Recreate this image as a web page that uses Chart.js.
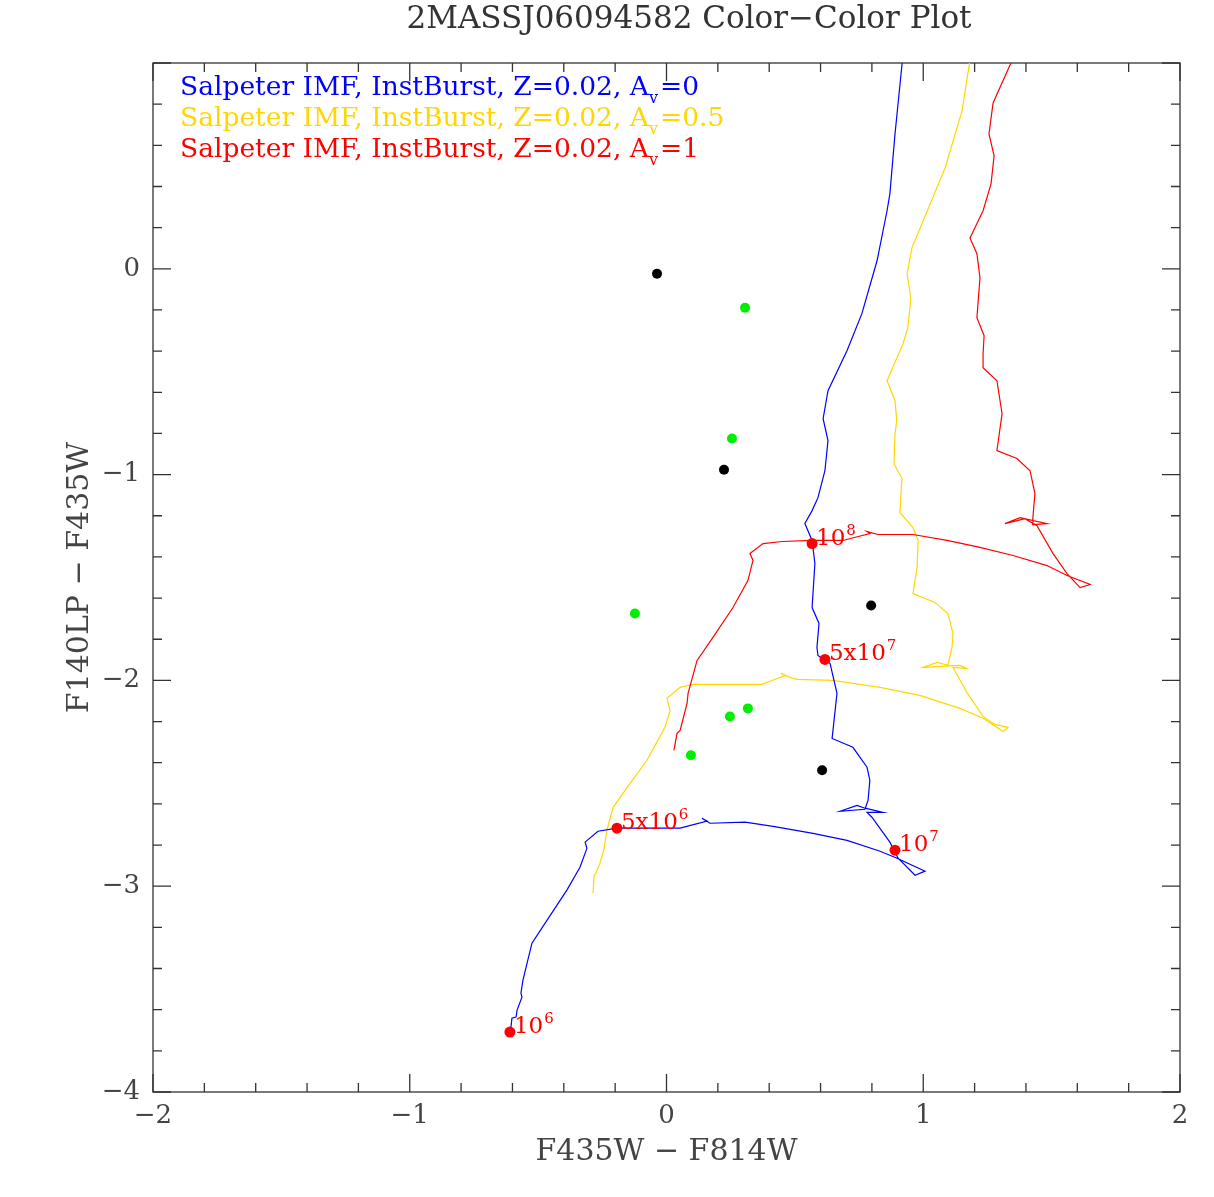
<!DOCTYPE html>
<html>
<head>
<meta charset="utf-8">
<script src="https://cdn.jsdelivr.net/npm/chart.js@4.4.1/dist/chart.umd.min.js"></script>
<style>
    body { margin: 0; background: #fff; }
</style>
</head>
<body>
<canvas id="ccChart" width="1214" height="1197"></canvas>
<script>
// Tracks (Salpeter IMF, inst. burst, Z=0.02) for Av = 0, 0.5, 1
const blueX = [-0.610,-0.602,-0.586,-0.582,-0.563,-0.567,-0.559,-0.543,-0.524,-0.465,
    -0.388,-0.337,-0.310,-0.317,-0.267,-0.193,0.053,0.158,0.138,0.169,
    0.306,0.415,0.571,0.703,0.832,0.898,1.007,0.968,0.902,0.870,
    0.800,0.781,0.843,0.773,0.742,0.676,0.773,0.785,0.792,0.781,
    0.726,0.645,0.664,0.637,0.617,0.590,0.586,0.594,0.567,0.578,
    0.567,0.539,0.567,0.590,0.617,0.629,0.610,0.629,0.703,0.761,
    0.820,0.859,0.870,0.890,0.917,0.929];
const blueY = [-3.733,-3.641,-3.636,-3.602,-3.539,-3.519,-3.456,-3.374,-3.277,-3.165,
    -3.019,-2.908,-2.816,-2.786,-2.733,-2.718,-2.718,-2.684,-2.670,-2.694,
    -2.689,-2.709,-2.743,-2.777,-2.830,-2.864,-2.927,-2.947,-2.864,-2.786,
    -2.665,-2.641,-2.641,-2.621,-2.607,-2.636,-2.626,-2.583,-2.485,-2.422,
    -2.325,-2.282,-2.063,-1.917,-1.903,-1.879,-1.840,-1.723,-1.646,-1.432,
    -1.320,-1.238,-1.175,-1.112,-0.981,-0.835,-0.728,-0.592,-0.398,-0.218,
    0.039,0.282,0.364,0.655,0.990,1.107];

const yellowX = [-0.286,-0.282,-0.275,-0.259,-0.247,-0.243,-0.232,-0.208,-0.142,-0.076,
    -0.006,0.014,0.002,0.053,0.103,0.372,0.462,0.446,0.481,0.508,
    0.648,0.832,0.987,1.143,1.233,1.311,1.330,1.279,1.233,1.170,
    1.116,1.170,1.143,0.999,1.054,1.096,1.112,1.116,1.096,1.046,
    0.960,0.976,0.980,0.960,0.909,0.917,0.886,0.890,0.897,0.890,
    0.859,0.921,0.940,0.952,0.937,0.956,1.085,1.151,1.179,1.187];
const yellowY = [-3.034,-2.947,-2.937,-2.888,-2.835,-2.816,-2.728,-2.617,-2.500,-2.388,
    -2.228,-2.146,-2.087,-2.034,-2.019,-2.019,-1.976,-1.966,-1.985,-1.995,
    -2.000,-2.034,-2.073,-2.136,-2.184,-2.248,-2.228,-2.214,-2.175,-2.058,
    -1.937,-1.942,-1.927,-1.937,-1.913,-1.927,-1.840,-1.772,-1.675,-1.621,
    -1.578,-1.451,-1.320,-1.257,-1.184,-1.019,-0.947,-0.801,-0.738,-0.641,
    -0.544,-0.364,-0.286,-0.146,-0.024,0.102,0.490,0.767,0.990,1.058];

const redX = [0.029,0.041,0.053,0.080,0.084,0.119,0.181,0.259,0.317,0.337,
    0.325,0.376,0.450,0.567,0.687,0.792,0.781,0.824,0.960,1.093,
    1.221,1.350,1.482,1.560,1.650,1.611,1.560,1.505,1.443,1.396,
    1.318,1.377,1.482,1.424,1.427,1.435,1.416,1.365,1.287,1.307,
    1.287,1.233,1.233,1.237,1.209,1.221,1.209,1.182,1.233,1.264,
    1.276,1.256,1.272,1.338,1.365];
const redY = [-2.340,-2.257,-2.243,-2.112,-2.063,-1.903,-1.791,-1.646,-1.515,-1.417,
    -1.383,-1.335,-1.325,-1.320,-1.320,-1.286,-1.277,-1.291,-1.291,-1.320,
    -1.354,-1.393,-1.442,-1.490,-1.534,-1.549,-1.481,-1.383,-1.248,-1.214,
    -1.238,-1.209,-1.238,-1.243,-1.209,-1.092,-0.981,-0.922,-0.883,-0.704,
    -0.544,-0.481,-0.413,-0.325,-0.238,-0.044,0.073,0.150,0.282,0.413,
    0.549,0.655,0.806,0.990,1.058];

// Age markers on the Av=0 track
const ageX = [-0.610, -0.193, 0.890, 0.617, 0.567];
const ageY = [-3.709, -2.718, -2.825, -1.898, -1.335];
const ageMant = ['', '5x', '', '5x', ''];
const ageExp = ['6', '6', '7', '7', '8'];

// Observed sources
const blackX = [-0.037, 0.224, 0.797, 0.606];
const blackY = [-0.024, -0.976, -1.636, -2.437];
const greenX = [0.306, 0.255, -0.123, 0.247, 0.317, 0.095];
const greenY = [-0.189, -0.825, -1.675, -2.175, -2.136, -2.364];

const avValues = ['0', '0.5', '1'];
const trackColors = ['#0000ff', '#ffd700', '#ff0000'];
const xTicks = [-2, -1, 0, 1, 2];
const yTicks = [-4, -3, -2, -1, 0];

function pts(xs, ys) {
    return xs.map((x, i) => ({ x: x, y: ys[i] }));
}

const FONT = "'DejaVu Serif', serif";
const minus = v => (v < 0 ? '\u2212' + Math.abs(v) : String(v));

// Cadre, graduations internes, titre, légende et étiquettes d'âge
const decorations = {
    id: 'decorations',
    beforeDatasetsDraw(chart) {
        const { ctx, chartArea: a, scales: { x, y } } = chart;
        ctx.save();
        ctx.strokeStyle = '#333';
        ctx.lineWidth = 1.3;
        ctx.strokeRect(a.left, a.top, a.right - a.left, a.bottom - a.top);
        ctx.beginPath();
        for (let i = 0; i <= 20; i++) {
            const px = x.getPixelForValue(-2 + i * 0.2);
            const len = i % 5 === 0 ? 18 : 9;
            ctx.moveTo(px, a.bottom); ctx.lineTo(px, a.bottom - len);
            ctx.moveTo(px, a.top); ctx.lineTo(px, a.top + len);
        }
        for (let i = 0; i <= 25; i++) {
            const py = y.getPixelForValue(-4 + i * 0.2);
            const len = i % 5 === 0 ? 18 : 9;
            ctx.moveTo(a.left, py); ctx.lineTo(a.left + len, py);
            ctx.moveTo(a.right, py); ctx.lineTo(a.right - len, py);
        }
        ctx.stroke();
        ctx.restore();
    },
    afterDatasetsDraw(chart) {
        const { ctx, scales: { x, y } } = chart;
        ctx.save();
        // titre
        ctx.fillStyle = '#333';
        ctx.font = '31px ' + FONT;
        ctx.textAlign = 'center';
        ctx.textBaseline = 'alphabetic';
        ctx.fillText('2MASSJ06094582 Color\u2212Color Plot', 689, 28);

        // légende
        ctx.textAlign = 'left';
        avValues.forEach((av, i) => {
            const base = 95 + i * 31;
            let cx = 180;
            ctx.fillStyle = trackColors[i];
            ctx.font = '26.5px ' + FONT;
            const s1 = 'Salpeter IMF, InstBurst, Z=0.02, A';
            ctx.fillText(s1, cx, base);
            cx += ctx.measureText(s1).width;
            ctx.font = '16px ' + FONT;
            ctx.fillText('v', cx, base + 8);
            cx += ctx.measureText('v').width + 2;
            ctx.font = '26.5px ' + FONT;
            ctx.fillText('=' + av, cx, base);
        });

        // étiquettes d'âge
        ctx.fillStyle = '#ff0000';
        ageX.forEach((ax, i) => {
            let cx = x.getPixelForValue(ax) + 4;
            const base = y.getPixelForValue(ageY[i]) + 1;
            ctx.font = '23px ' + FONT;
            const s = ageMant[i] + '10';
            ctx.fillText(s, cx, base);
            cx += ctx.measureText(s).width + 1;
            ctx.font = '15px ' + FONT;
            ctx.fillText(ageExp[i], cx, base - 10);
        });
        ctx.restore();
    }
};

const ccCtx = document.getElementById('ccChart').getContext('2d');
const ccChart = new Chart(ccCtx, {
    type: 'scatter',
    data: {
        datasets: [
            { data: pts(blueX, blueY), showLine: true, borderColor: trackColors[0], borderWidth: 1.2, pointRadius: 0, tension: 0, order: 3 },
            { data: pts(yellowX, yellowY), showLine: true, borderColor: trackColors[1], borderWidth: 1.2, pointRadius: 0, tension: 0, order: 5 },
            { data: pts(redX, redY), showLine: true, borderColor: trackColors[2], borderWidth: 1.2, pointRadius: 0, tension: 0, order: 4 },
            { data: pts(blackX, blackY), pointRadius: 5, backgroundColor: '#000', borderWidth: 0, order: 1 },
            { data: pts(greenX, greenY), pointRadius: 5, backgroundColor: '#00ee00', borderWidth: 0, order: 1 },
            { data: pts(ageX, ageY), pointRadius: 5.5, backgroundColor: '#ff0000', borderColor: '#ff0000', borderWidth: 0, order: 0 }
        ]
    },
    options: {
        responsive: false,
        animation: false,
        layout: { padding: { top: 63, right: 34, left: 0, bottom: 0 } },
        plugins: {
            legend: { display: false },
            tooltip: { enabled: false },
            title: { display: false }
        },
        scales: {
            x: {
                type: 'linear',
                min: -2,
                max: 2,
                afterFit: s => { s.height = 105; },
                afterBuildTicks: s => { s.ticks = xTicks.map(v => ({ value: v })); },
                grid: { display: false, drawTicks: false },
                border: { display: false },
                ticks: {
                    autoSkip: false, maxRotation: 0, padding: 9, color: '#444',
                    font: { family: FONT, size: 26 },
                    callback: v => minus(v)
                },
                title: {
                    display: true, text: 'F435W \u2212 F814W', color: '#444',
                    font: { family: FONT, size: 30 },
                    padding: { top: 0, bottom: 27 }
                }
            },
            y: {
                type: 'linear',
                min: -4,
                max: 1,
                afterFit: s => { s.width = 153; },
                afterBuildTicks: s => { s.ticks = yTicks.map(v => ({ value: v })); },
                grid: { display: false, drawTicks: false },
                border: { display: false },
                ticks: {
                    autoSkip: false, padding: 13, color: '#444',
                    font: { family: FONT, size: 26 },
                    callback: v => minus(v)
                },
                title: {
                    display: true, text: 'F140LP \u2212 F435W', color: '#444',
                    font: { family: FONT, size: 30 },
                    padding: { top: 62, bottom: 0 }
                }
            }
        }
    },
    plugins: [decorations]
});
</script>
</body>
</html>
